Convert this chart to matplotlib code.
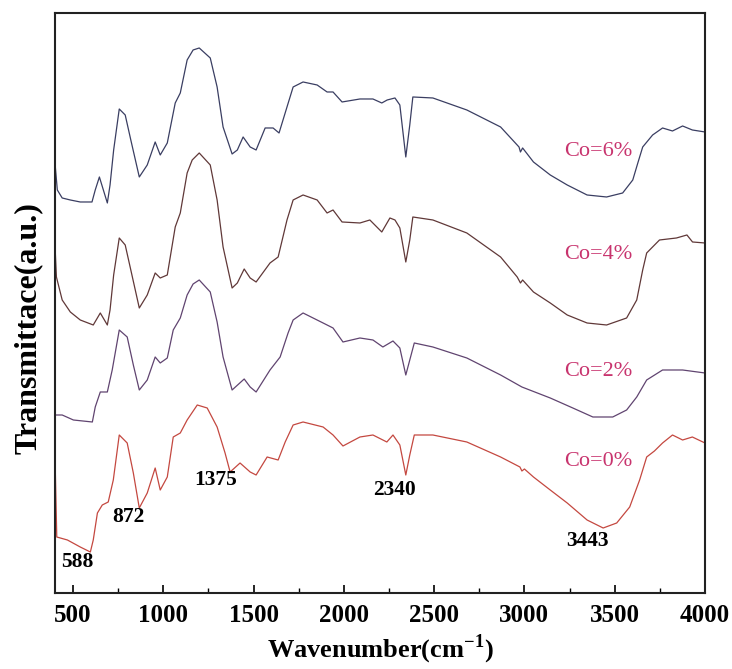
import numpy as np
import matplotlib
matplotlib.use("Agg")
import matplotlib.pyplot as plt
from matplotlib.ticker import MultipleLocator

plt.rcParams['font.family'] = ['Liberation Serif', 'DejaVu Serif']
plt.rcParams['mathtext.fontset'] = 'custom'
plt.rcParams['mathtext.rm'] = 'Liberation Serif:bold'
plt.rcParams['mathtext.bf'] = 'Liberation Serif:bold'

# ---- data (wavenumber, transmittance in arbitrary offset units) ----
w_co6 = [402, 413, 440, 485, 540, 605, 623, 646, 668, 690, 705, 725, 756, 789, 820, 867, 911, 955, 983,
         1022, 1066, 1094, 1132, 1165, 1199, 1260, 1298, 1331, 1381, 1410, 1442, 1481, 1514, 1564, 1608,
         1641, 1685, 1719, 1774, 1852, 1907, 1940, 1990, 2089, 2161, 2210, 2240, 2283, 2310, 2343, 2365,
         2382, 2493, 2681, 2868, 2970, 2978, 2990, 3050, 3143, 3237, 3347, 3455, 3544, 3600, 3628, 3655,
         3710, 3765, 3820, 3876, 3930, 4000]
t_co6 = [426, 403, 395, 393, 391, 391, 403, 416, 403, 390, 408, 443, 484, 478, 453, 416, 428, 451, 438,
         450, 490, 500, 533, 543, 545, 535, 506, 466, 439, 443, 456, 446, 443, 465, 465,
         460, 486, 506, 511, 508, 501, 501, 491, 494, 494, 490, 493, 495, 488, 436, 468,
         496, 495, 483, 466, 446, 441, 445, 431, 418, 408, 398, 396, 400, 413, 430, 446,
         458, 465, 462, 467, 463, 461]

w_co4 = [402, 408, 440, 485, 540, 612, 651, 690, 705, 725, 756, 789, 820, 867, 911, 955, 983, 1022,
         1066, 1094, 1132, 1160, 1199, 1260, 1298, 1331, 1381, 1410, 1448, 1481, 1514, 1591, 1636, 1685,
         1719, 1774, 1852, 1907, 1940, 1990, 2089, 2144, 2210, 2255, 2283, 2310, 2343, 2365, 2382, 2493,
         2681, 2868, 2960, 2978, 2990, 3050, 3143, 3237, 3347, 3455, 3566, 3622, 3655, 3677, 3748, 3842,
         3900, 3931, 4000]
t_co4 = [340, 316, 293, 281, 273, 268, 280, 268, 283, 318, 355, 348, 323, 285, 298, 320, 315, 318,
         366, 380, 420, 433, 440, 428, 393, 346, 305, 310, 324, 315, 311, 330, 336, 373,
         393, 398, 393, 380, 383, 371, 370, 373, 361, 375, 373, 365, 331, 353, 376, 373,
         360, 336, 316, 310, 313, 301, 290, 278, 270, 268, 275, 293, 323, 340, 353, 355,
         358, 351, 350]

w_co2 = [402, 440, 502, 607, 623, 651, 690, 717, 756, 800, 834, 867, 911, 955, 983, 1022, 1055, 1094,
         1132, 1165, 1199, 1260, 1298, 1331, 1381, 1448, 1481, 1514, 1591, 1647, 1691, 1719, 1774, 1885,
         1940, 1995, 2089, 2161, 2216, 2272, 2310, 2343, 2365, 2390, 2493, 2681, 2868, 2986, 3143, 3268,
         3379, 3489, 3566, 3622, 3677, 3765, 3876, 4000]
t_co2 = [178, 178, 173, 171, 186, 201, 201, 223, 263, 256, 228, 203, 213, 236, 230, 235, 263, 275,
         298, 309, 313, 301, 271, 236, 203, 214, 206, 201, 223, 236, 260, 273, 280, 270,
         265, 251, 255, 253, 246, 252, 245, 218, 233, 250, 246, 235, 218, 206, 195, 185,
         176, 176, 183, 196, 213, 223, 223, 220]

w_co0 = [402, 410, 469, 540, 596, 612, 635, 662, 695, 723, 756, 800, 834, 867, 911, 955, 983, 1022,
         1055, 1094, 1132, 1188, 1243, 1298, 1342, 1370, 1425, 1481, 1514, 1575, 1636, 1675, 1719, 1774,
         1885, 1940, 1995, 2089, 2161, 2238, 2272, 2310, 2343, 2365, 2390, 2493, 2681, 2868, 2975, 2986,
         3000, 3050, 3143, 3237, 3347, 3436, 3511, 3583, 3638, 3677, 3720, 3765, 3820, 3876, 3930, 4000]
t_co0 = [121, 56, 53, 46, 41, 53, 80, 88, 91, 113, 158, 150, 120, 85, 100, 125, 103, 116,
         156, 160, 173, 188, 185, 166, 140, 121, 130, 121, 118, 136, 133, 151, 168, 171,
         166, 158, 147, 156, 158, 151, 158, 148, 118, 138, 158, 158, 151, 136, 126, 122,
         124, 116, 103, 90, 73, 65, 70, 86, 113, 136, 142, 150, 158, 153, 156, 150]

series_labels = ['Co=6%', 'Co=4%', 'Co=2%', 'Co=0%']
series_colors = ['#3a3e62', '#603838', '#604470', '#c44840']
label_pos = [(3600, 441), (3600, 338), (3600, 221), (3600, 131)]

peak_labels = ['588', '872', '1375', '2340', '3443']
peak_pos = [(524, 31), (806, 76), (1287, 113), (2283, 103), (3351, 52)]

xticks = [500, 1000, 1500, 2000, 2500, 3000, 3500, 4000]

fig = plt.figure(figsize=(7.32, 6.69), dpi=100)
ax = fig.add_axes([0.0751, 0.1136, 0.8880, 0.8670])

for w, t, c in zip([w_co6, w_co4, w_co2, w_co0], [t_co6, t_co4, t_co2, t_co0], series_colors):
    ax.plot(w, t, color=c, lw=0.9)

for lab, (x, y) in zip(series_labels, label_pos):
    ax.text(x, y, lab, color='#c8346e', fontsize=16, ha='right', va='center')

for lab, (x, y) in zip(peak_labels, peak_pos):
    ax.text(x, y, lab, color='black', fontsize=15.5, fontweight='bold', ha='center', va='center')

ax.set_xlim(400, 4000)
ax.set_ylim(0, 580)
ax.set_xticks(xticks)
ax.xaxis.set_minor_locator(MultipleLocator(250))
ax.set_yticks([])
ax.tick_params(axis='x', which='major', direction='in', length=6, width=1.2, labelsize=18, pad=8)
ax.tick_params(axis='x', which='minor', direction='in', length=3.5, width=1.0)
for lbl in ax.get_xticklabels():
    lbl.set_fontweight('bold')
for s in ax.spines.values():
    s.set_linewidth(1.5)
    s.set_color('#222222')

ax.set_xlabel(r'Wavenumber(cm$^{-1}$)', fontsize=19, fontweight='bold', labelpad=4)
ax.set_ylabel('Transmittace(a.u.)', fontsize=23, fontweight='bold')
ax.yaxis.set_label_coords(-0.018, 0.457)

fig.savefig('out.png', dpi=100)
